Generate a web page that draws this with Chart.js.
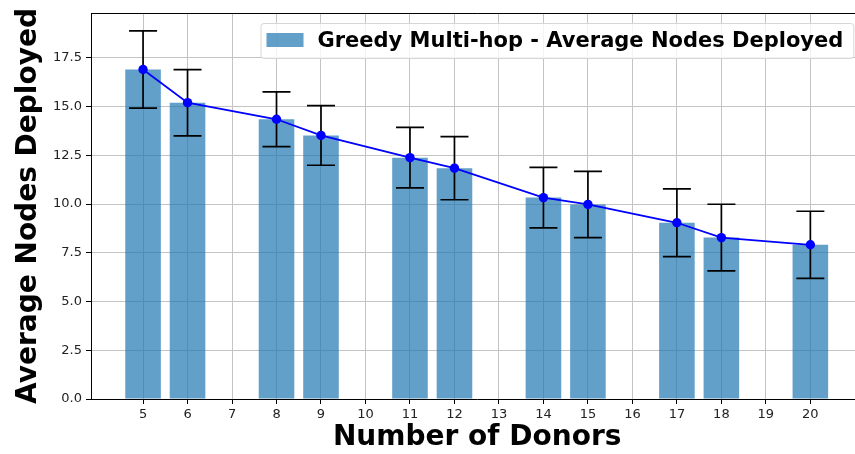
<!DOCTYPE html>
<html>
<head>
<meta charset="utf-8">
<script src="https://cdn.jsdelivr.net/npm/chart.js@4.4.1/dist/chart.umd.min.js"></script>
<style>
  html, body { margin: 0; padding: 0; background: #fff; }
  /* the original figure is cropped on the right, so the canvas is a bit wider than the window */
  #wrap { width: 855px; height: 454px; overflow: hidden; }
</style>
</head>
<body>
<div id="wrap"><canvas id="chart" width="868" height="454"></canvas></div>
<script>
const donors = [5, 6, 8, 9, 11, 12, 14, 15, 17, 18, 20];
const avgNodes = [16.9, 15.2, 14.35, 13.52, 12.38, 11.84, 10.33, 9.98, 9.04, 8.28, 7.91];
const stdNodes = [1.98, 1.7, 1.4, 1.53, 1.55, 1.62, 1.55, 1.7, 1.74, 1.71, 1.72];
const xTicks = [5, 6, 7, 8, 9, 10, 11, 12, 13, 14, 15, 16, 17, 18, 19, 20];
const yTicks = [0, 2.5, 5, 7.5, 10, 12.5, 15, 17.5];
const legendLabel = 'Greedy Multi-hop - Average Nodes Deployed';

const FONT = '"DejaVu Sans", sans-serif';

// error bars, drawn right after the bars and before the line
const errorBars = {
    id: 'errorBars',
    afterDatasetDraw(chart, args) {
        if (args.index !== 0) return;
        const { ctx, scales: { x, y } } = chart;
        ctx.save();
        ctx.strokeStyle = '#000';
        ctx.lineWidth = 1.7;
        donors.forEach((d, i) => {
            const px = x.getPixelForValue(d);
            const top = y.getPixelForValue(avgNodes[i] + stdNodes[i]);
            const bot = y.getPixelForValue(avgNodes[i] - stdNodes[i]);
            ctx.beginPath();
            ctx.moveTo(px, top); ctx.lineTo(px, bot);
            ctx.moveTo(px - 14, top); ctx.lineTo(px + 14, top);
            ctx.moveTo(px - 14, bot); ctx.lineTo(px + 14, bot);
            ctx.stroke();
        });
        ctx.restore();
    }
};

// top/right spines and the legend box inside the axes
const frameAndLegend = {
    id: 'frameAndLegend',
    afterDraw(chart) {
        const { ctx, chartArea: a } = chart;
        ctx.save();
        ctx.strokeStyle = '#000';
        ctx.lineWidth = 1;
        ctx.beginPath();
        ctx.moveTo(a.left, a.top + 0.5); ctx.lineTo(a.right, a.top + 0.5);
        ctx.moveTo(a.right - 0.5, a.top); ctx.lineTo(a.right - 0.5, a.bottom);
        ctx.stroke();

        ctx.font = 'bold 21px ' + FONT;
        const textW = ctx.measureText(legendLabel).width;
        const boxRight = a.right - 10;
        const textRight = boxRight - 10;
        const textLeft = textRight - textW;
        const patchLeft = textLeft - 51;
        const boxLeft = patchLeft - 6;
        const boxTop = a.top + 10;
        const boxH = 35;

        ctx.beginPath();
        ctx.roundRect(boxLeft + 0.5, boxTop + 0.5, boxRight - boxLeft, boxH, 3);
        ctx.fillStyle = 'rgba(255,255,255,0.8)';
        ctx.fill();
        ctx.strokeStyle = '#d6d6d6';
        ctx.stroke();

        ctx.fillStyle = 'rgba(31,119,180,0.7)';
        ctx.fillRect(patchLeft, boxTop + 10, 37, 14);

        ctx.fillStyle = '#000';
        ctx.textBaseline = 'middle';
        ctx.textAlign = 'left';
        ctx.fillText(legendLabel, textLeft, boxTop + boxH / 2 + 1);
        ctx.restore();
    }
};

new Chart(document.getElementById('chart'), {
    data: {
        datasets: [
            {
                type: 'bar',
                label: legendLabel,
                data: donors.map((d, i) => ({ x: d, y: avgNodes[i] })),
                backgroundColor: 'rgba(31,119,180,0.7)',
                borderWidth: 0,
                barPercentage: 1,
                categoryPercentage: 0.8,
                order: 1
            },
            {
                type: 'line',
                label: 'mean',
                data: donors.map((d, i) => ({ x: d, y: avgNodes[i] })),
                borderColor: '#0000ff',
                backgroundColor: '#0000ff',
                borderWidth: 1.8,
                pointRadius: 4.7,
                pointBorderWidth: 0,
                tension: 0,
                order: 0
            }
        ]
    },
    options: {
        responsive: false,
        animation: false,
        devicePixelRatio: 1,
        layout: { padding: { top: 13, right: 1, left: 0, bottom: 0 } },
        plugins: {
            legend: { display: false },
            tooltip: { enabled: false }
        },
        scales: {
            x: {
                type: 'linear',
                min: 3.83,
                max: 21.19,
                offset: false,
                afterBuildTicks: (s) => { s.ticks = xTicks.map(v => ({ value: v })); },
                afterFit: (s) => { s.height = 55; },
                grid: { offset: false, color: '#c4c4c4', lineWidth: 1, tickColor: '#000', tickLength: 5 },
                border: { color: '#000', width: 1 },
                ticks: {
                    color: '#222',
                    font: { family: FONT, size: 13 },
                    padding: 3,
                    maxRotation: 0,
                    callback: (v) => String(v)
                },
                title: {
                    display: true,
                    text: 'Number of Donors',
                    color: '#000',
                    font: { family: FONT, size: 28, weight: 'bold', lineHeight: 1 },
                    padding: { top: 0, bottom: 2.5 }
                }
            },
            y: {
                min: 0,
                max: 19.8,
                afterBuildTicks: (s) => { s.ticks = yTicks.map(v => ({ value: v })); },
                afterFit: (s) => { s.width = 91; },
                grid: { color: '#c4c4c4', lineWidth: 1, tickColor: '#000', tickLength: 5 },
                border: { color: '#000', width: 1 },
                ticks: {
                    color: '#222',
                    font: { family: FONT, size: 13 },
                    padding: 4,
                    callback: (v) => Number(v).toFixed(1)
                },
                title: {
                    display: true,
                    text: 'Average Nodes Deployed',
                    color: '#000',
                    font: { family: FONT, size: 28, weight: 'bold', lineHeight: 1 },
                    padding: { top: 15, bottom: 0 }
                }
            }
        }
    },
    plugins: [errorBars, frameAndLegend]
});
</script>
</body>
</html>
